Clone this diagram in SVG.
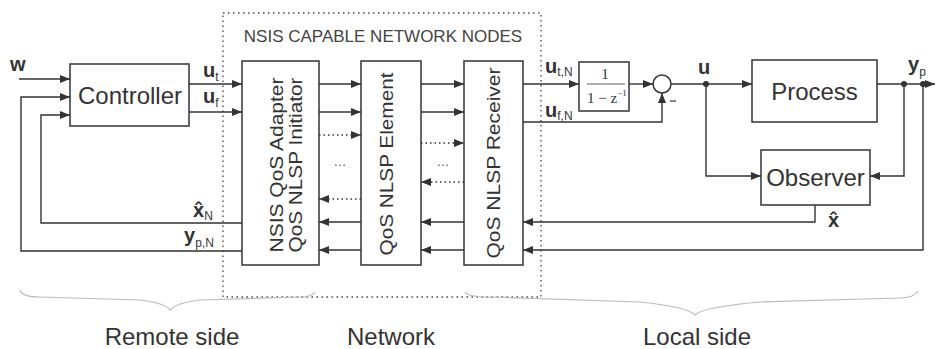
<svg xmlns="http://www.w3.org/2000/svg" width="936" height="349" viewBox="0 0 936 349">
<style>
.box{fill:#fff;stroke:#333;stroke-width:1.5}
.ln{fill:none;stroke:#333;stroke-width:1.4}
.dt{fill:none;stroke:#333;stroke-width:1.4;stroke-dasharray:1.5 3}
.lbl{font-family:"Liberation Sans",Arial,sans-serif;font-size:24px;fill:#333}
.rot{font-family:"Liberation Sans",Arial,sans-serif;font-size:19px;fill:#333}
.sym{font-family:"Liberation Sans",Arial,sans-serif;font-size:20px;font-weight:bold;fill:#333}
.sub{font-size:12px;font-weight:normal}
.tf{font-family:"Liberation Serif","Times New Roman",serif;font-size:15px;fill:#333}
.brace{fill:none;stroke:#bbb;stroke-width:1.2}
</style>
<defs>
<marker id="ah" markerUnits="userSpaceOnUse" markerWidth="11" markerHeight="8" refX="10" refY="4" orient="auto">
<path d="M0,0 L10,4 L0,8 z" fill="#333"/>
</marker>
</defs>
<rect width="936" height="349" fill="#fff"/>

<g id="network-region">
<rect x="223" y="13" width="318" height="284" fill="none" stroke="#444" stroke-width="1.3" stroke-dasharray="1.5 3.5"/>
<text x="383" y="42" text-anchor="middle" font-family="Liberation Sans, Arial, sans-serif" font-size="17" fill="#444">NSIS CAPABLE NETWORK NODES</text>
</g>

<g id="controller">
<rect class="box" x="70" y="64" width="119" height="62"/>
<text class="lbl" x="130" y="104" text-anchor="middle">Controller</text>
</g>

<g id="nsis-adapter">
<rect class="box" x="242" y="61" width="77" height="204"/>
<text class="rot" transform="translate(283,165) rotate(-90)" text-anchor="middle" textLength="175" lengthAdjust="spacingAndGlyphs">NSIS QoS Adapter</text>
<text class="rot" transform="translate(302,165) rotate(-90)" text-anchor="middle" textLength="175" lengthAdjust="spacingAndGlyphs">QoS NLSP Initiator</text>
</g>

<g id="nlsp-element">
<rect class="box" x="361" y="61" width="60" height="204"/>
<text class="rot" transform="translate(393,164) rotate(-90)" text-anchor="middle" textLength="183" lengthAdjust="spacingAndGlyphs">QoS NLSP Element</text>
</g>

<g id="nlsp-receiver">
<rect class="box" x="464" y="61" width="59" height="204"/>
<text class="rot" transform="translate(500,163) rotate(-90)" text-anchor="middle" textLength="191" lengthAdjust="spacingAndGlyphs">QoS NLSP Receiver</text>
</g>

<g id="integrator">
<rect class="box" x="579" y="62" width="50" height="49"/>
<text class="tf" x="605" y="79" text-anchor="middle">1</text>
<line x1="587" y1="84" x2="625" y2="84" stroke="#333" stroke-width="0.8"/>
<text class="tf" x="587" y="103">1 − z<tspan font-size="9" dy="-7">−1</tspan></text>
</g>

<g id="sum">
<circle cx="662" cy="84" r="9" fill="#fff" stroke="#333" stroke-width="1.5"/>
<line x1="670" y1="101" x2="676" y2="101" stroke="#333" stroke-width="1.2"/>
</g>

<g id="process">
<rect class="box" x="752" y="60" width="125" height="62"/>
<text class="lbl" x="814.5" y="100" text-anchor="middle">Process</text>
</g>

<g id="observer">
<rect class="box" x="761" y="150" width="109" height="55"/>
<text class="lbl" x="815.5" y="186" text-anchor="middle">Observer</text>
</g>

<g id="connectors">
<path class="ln" d="M19,79 H70" marker-end="url(#ah)"/>
<path class="ln" d="M242,251 H21 V97 H70" marker-end="url(#ah)"/>
<path class="ln" d="M242,223 H41 V115 H70" marker-end="url(#ah)"/>
<path class="ln" d="M189,84 H242" marker-end="url(#ah)"/>
<path class="ln" d="M189,112 H242" marker-end="url(#ah)"/>

<path class="ln" d="M319,84 H361" marker-end="url(#ah)"/>
<path class="ln" d="M319,112 H361" marker-end="url(#ah)"/>
<path class="dt" d="M319,135 H361" marker-end="url(#ah)"/>
<path class="dt" d="M361,199 H319" marker-end="url(#ah)"/>
<path class="ln" d="M361,222 H319" marker-end="url(#ah)"/>
<path class="ln" d="M361,250 H319" marker-end="url(#ah)"/>

<path class="ln" d="M421,84 H464" marker-end="url(#ah)"/>
<path class="ln" d="M421,112 H464" marker-end="url(#ah)"/>
<path class="dt" d="M421,143 H464" marker-end="url(#ah)"/>
<path class="dt" d="M464,182 H421" marker-end="url(#ah)"/>
<path class="ln" d="M464,222 H421" marker-end="url(#ah)"/>
<path class="ln" d="M464,250 H421" marker-end="url(#ah)"/>

<path class="ln" d="M523,84 H579" marker-end="url(#ah)"/>
<path class="ln" d="M523,122 H662 V93" marker-end="url(#ah)"/>
<path class="ln" d="M629,84 H653" marker-end="url(#ah)"/>
<path class="ln" d="M671,84 H752" marker-end="url(#ah)"/>
<path class="ln" d="M706,84 V176 H761" marker-end="url(#ah)"/>
<path class="ln" d="M877,84 H935" marker-end="url(#ah)"/>
<path class="ln" d="M904,84 V176 H870" marker-end="url(#ah)"/>
<path class="ln" d="M815,205 V222 H523" marker-end="url(#ah)"/>
<path class="ln" d="M923,84 V250 H523" marker-end="url(#ah)"/>
<circle cx="706" cy="84" r="3" fill="#333"/>
<circle cx="904" cy="84" r="3" fill="#333"/>
<circle cx="923" cy="84" r="3" fill="#333"/>
<text x="340" y="166" text-anchor="middle" font-family="Liberation Sans, Arial, sans-serif" font-size="13" fill="#555">…</text>
<text x="443" y="166" text-anchor="middle" font-family="Liberation Sans, Arial, sans-serif" font-size="13" fill="#555">…</text>
</g>

<g id="labels">
<text class="sym" x="10" y="71">w</text>
<text class="sym" x="203" y="77">u<tspan class="sub" dy="4">t</tspan></text>
<text class="sym" x="203" y="103">u<tspan class="sub" dy="4">f</tspan></text>
<text class="sym" x="193" y="217">x̂<tspan class="sub" font-size="10" dy="3">N</tspan></text>
<text class="sym" x="184" y="242">y<tspan class="sub" dy="5">p,N</tspan></text>
<text class="sym" x="545" y="73">u<tspan class="sub" dy="3">t,N</tspan></text>
<text class="sym" x="545" y="117">u<tspan class="sub" dy="3">f,N</tspan></text>
<text class="sym" x="698" y="74">u</text>
<text class="sym" x="908" y="71">y<tspan class="sub" dy="5">p</tspan></text>
<text class="sym" x="828" y="227">x̂</text>
</g>

<g id="braces">
<path class="brace" d="M20,290 Q22,297 40,297 L140,300 Q165,303 170,310 Q176,303 200,300 L300,297 Q312,297 315,292"/>
<path class="brace" d="M465,292 Q468,297 490,297 L640,302 Q688,307 695,315 Q703,307 760,302 L900,298 Q914,298 918,291"/>
<text class="lbl" x="172" y="345" text-anchor="middle">Remote side</text>
<text class="lbl" x="391" y="345" text-anchor="middle">Network</text>
<text class="lbl" x="697" y="345" text-anchor="middle">Local side</text>
</g>
</svg>
